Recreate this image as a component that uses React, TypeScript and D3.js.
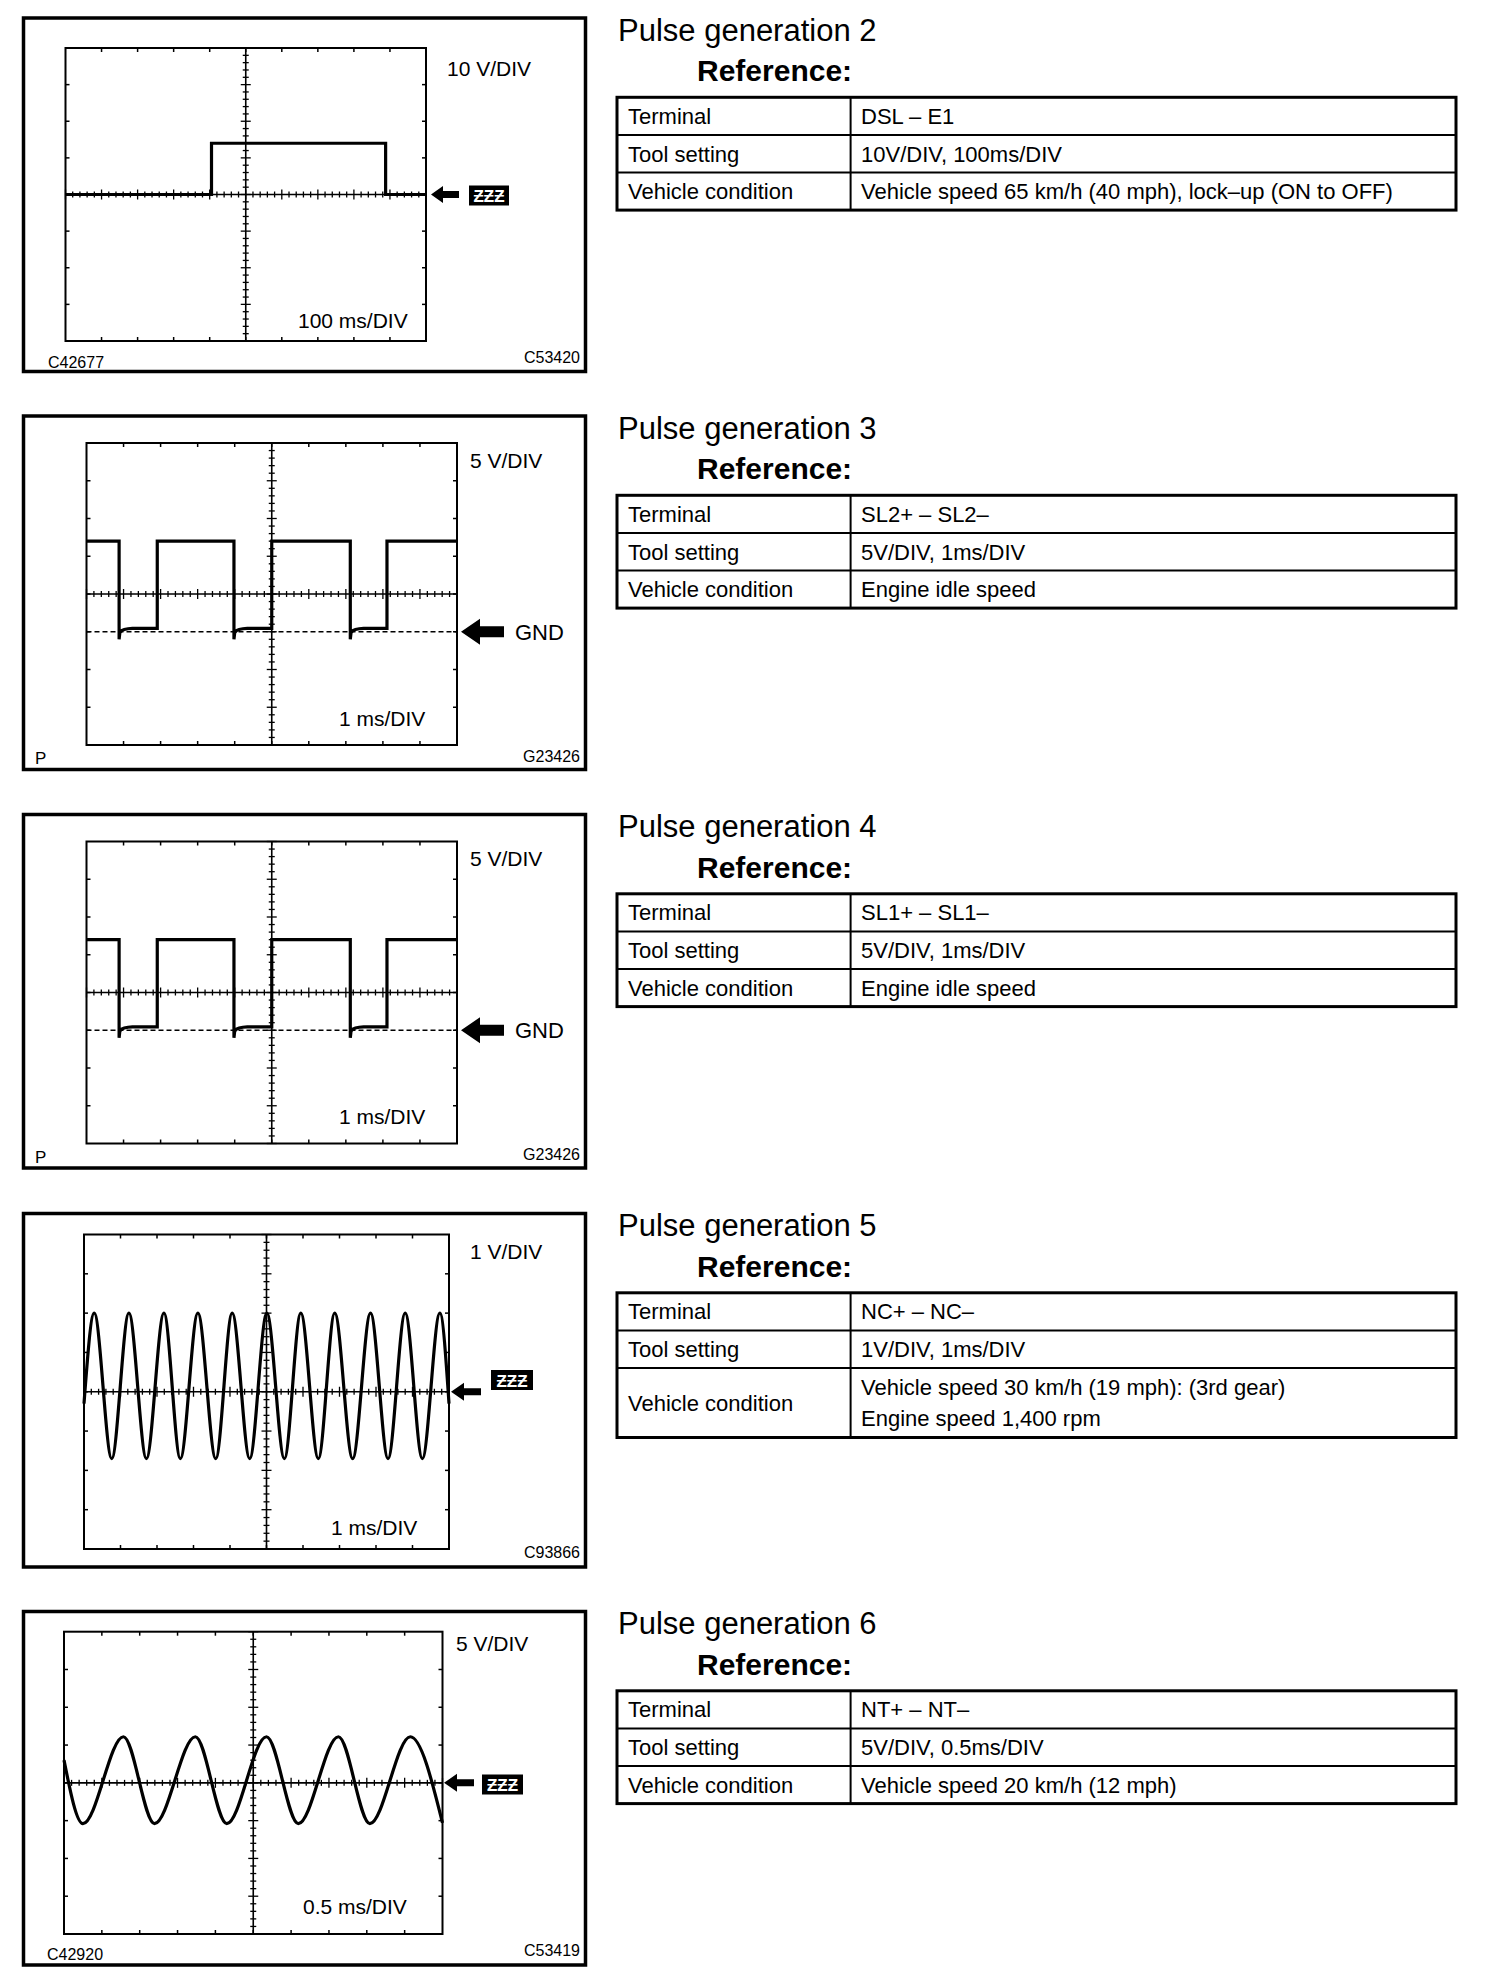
import React from "react";
import * as d3 from "d3";

const FONT = "'Liberation Sans', Arial, Helvetica, sans-serif";
const INK = "#000";
const W = 1504;
const H = 1982;

// ---- table text ----
const pulseNumbers = [2, 3, 4, 5, 6];
const rowLabels = ["Terminal", "Tool setting", "Vehicle condition"];
const terminals = ["DSL – E1", "SL2+ – SL2–", "SL1+ – SL1–", "NC+ – NC–", "NT+ – NT–"];
const toolSettings = [
  "10V/DIV, 100ms/DIV",
  "5V/DIV, 1ms/DIV",
  "5V/DIV, 1ms/DIV",
  "1V/DIV, 1ms/DIV",
  "5V/DIV, 0.5ms/DIV",
];
const conditions = [
  ["Vehicle speed 65 km/h (40 mph), lock–up (ON to OFF)"],
  ["Engine idle speed"],
  ["Engine idle speed"],
  ["Vehicle speed 30 km/h (19 mph): (3rd gear)", "Engine speed 1,400 rpm"],
  ["Vehicle speed 20 km/h (12 mph)"],
];

// ---- scope labels ----
const voltsPerDivLabels = ["10 V/DIV", "5 V/DIV", "5 V/DIV", "1 V/DIV", "5 V/DIV"];
const timePerDivLabels = ["100 ms/DIV", "1 ms/DIV", "1 ms/DIV", "1 ms/DIV", "0.5 ms/DIV"];
const voltsPerDiv = [10, 5, 5, 1, 5];
const msPerDiv = [100, 1, 1, 1, 0.5];
const centerOffsetDiv = [0, 1, 1, 0, 0]; // centre line above reference (GND) in divisions
const leftCodes = ["C42677", "P", "P", "", "C42920"];
const rightCodes = ["C53420", "G23426", "G23426", "C93866", "C53419"];

// ---- waveforms ----
// Pulse generation 2: DSL – E1
const dslTimeMs = [0, 405, 405, 888, 888, 1000];
const dslVolts = [0, 0, 14, 14, 0, 0];

// Pulse generation 3 / 4: SL solenoids, volts above GND
const slFallMs = [0.88, 3.98, 7.12];
const slRiseMs = [1.91, 5.0, 8.11];
const slHighV = 12;
const slLowOffsetMs = [0, 0.02, 0.07, 0.14, 0.24, 0.36];
const slLowVolts = [-1.0, -0.1, 0.15, 0.3, 0.4, 0.45];

// Pulse generation 5: NC sensor
const ncTimeMs = [0, 0.28, 0.76, 1.23, 1.71, 2.19, 2.64, 3.12, 3.61, 4.06, 4.54, 5.01,
  5.49, 5.94, 6.42, 6.87, 7.36, 7.85, 8.33, 8.8, 9.27, 9.75, 10];
const ncVolts = [-0.3, 2.0, -1.7, 2.0, -1.7, 2.0, -1.7, 2.0, -1.7, 2.0, -1.7, 2.0,
  -1.7, 2.0, -1.7, 2.0, -1.7, 2.0, -1.7, 2.0, -1.7, 2.0, -0.3];

// Pulse generation 6: NT sensor
const ntTimeMs = [0, 0.25, 0.785, 1.195, 1.735, 2.15, 2.675, 3.095, 3.625, 4.04, 4.575, 5.0];
const ntVolts = [3.0, -5.4, 6.1, -5.4, 6.1, -5.4, 6.1, -5.4, 6.1, -5.4, 6.1, -5.3];

function slSeries() {
  const t: number[] = [0];
  const v: number[] = [slHighV];
  slFallMs.forEach((f, i) => {
    t.push(f);
    v.push(slHighV);
    slLowOffsetMs.forEach((o, j) => {
      t.push(f + o);
      v.push(slLowVolts[j]);
    });
    t.push(slRiseMs[i], slRiseMs[i]);
    v.push(slLowVolts[slLowVolts.length - 1], slHighV);
  });
  t.push(10);
  v.push(slHighV);
  return { t, v };
}

const sl = slSeries();
const traces = [
  { t: dslTimeMs, v: dslVolts, curve: d3.curveLinear },
  { t: sl.t, v: sl.v, curve: d3.curveLinear },
  { t: sl.t, v: sl.v, curve: d3.curveLinear },
  { t: ncTimeMs, v: ncVolts, curve: d3.curveMonotoneX },
  { t: ntTimeMs, v: ntVolts, curve: d3.curveMonotoneX },
];

// ---- layout ----
const layouts = [
  {
    top: 18, grid: [65.5, 48, 426, 341], vLab: [447, 76], tLab: [298, 328],
    marker: { kind: "box", tip: 431, len: 28, headLen: 12, headH: 17, shaftH: 7, box: [469, 185.5, 40, 20] },
    lCode: [48, 368], rCode: [580, 363],
  },
  {
    top: 416, grid: [86.5, 443, 457, 745], vLab: [470, 467.5], tLab: [339, 725.5],
    marker: { kind: "gnd", tip: 461, len: 43, headLen: 19, headH: 26, shaftH: 11, textX: 515 },
    lCode: [35, 764], rCode: [580, 761.5],
  },
  {
    top: 814.5, grid: [86.5, 841.5, 457, 1143.5], vLab: [470, 866], tLab: [339, 1124],
    marker: { kind: "gnd", tip: 461, len: 43, headLen: 19, headH: 26, shaftH: 11, textX: 515 },
    lCode: [35, 1162.5], rCode: [580, 1160],
  },
  {
    top: 1213.5, grid: [84, 1234.5, 449, 1549], vLab: [470, 1259], tLab: [331, 1534.5],
    marker: { kind: "box", tip: 451, len: 30, headLen: 13, headH: 18, shaftH: 7, box: [491, 1370, 42, 20] },
    lCode: [48, 1960], rCode: [580, 1558],
  },
  {
    top: 1611.5, grid: [64, 1631.7, 442.5, 1934], vLab: [456, 1650.7], tLab: [303, 1913.5],
    marker: { kind: "box", tip: 444, len: 30, headLen: 13, headH: 18, shaftH: 7, box: [482, 1774.5, 41, 20] },
    lCode: [47, 1960], rCode: [580, 1956],
  },
];

const TABLE_X0 = 617;
const TABLE_X1 = 1456;
const TABLE_COL = 850.6;
const ROW_H = 37.6;

function arrowPath(tip: number, cy: number, len: number, headLen: number, headH: number, shaftH: number) {
  const p = d3.path();
  p.moveTo(tip, cy);
  p.lineTo(tip + headLen, cy - headH / 2);
  p.lineTo(tip + headLen, cy - shaftH / 2);
  p.lineTo(tip + len, cy - shaftH / 2);
  p.lineTo(tip + len, cy + shaftH / 2);
  p.lineTo(tip + headLen, cy + shaftH / 2);
  p.lineTo(tip + headLen, cy + headH / 2);
  p.closePath();
  return p.toString();
}

function Scope({ i }: { i: number }) {
  const L = layouts[i];
  const [gx0, gy0, gx1, gy1] = L.grid;
  const vpd = voltsPerDiv[i];
  const off = centerOffsetDiv[i];
  const x = d3.scaleLinear().domain([0, 10 * msPerDiv[i]]).range([gx0, gx1]);
  const y = d3.scaleLinear().domain([(-4 + off) * vpd, (4 + off) * vpd]).range([gy1, gy0]);
  const divX = d3.scaleLinear().domain([0, 10]).range([gx0, gx1]);
  const divY = d3.scaleLinear().domain([0, 8]).range([gy0, gy1]);
  const cx = divX(5);
  const cy = divY(4);
  const tr = traces[i];
  const line = d3
    .line<number>()
    .x((_, k) => x(tr.t[k]))
    .y((v) => y(v))
    .curve(tr.curve);

  const subX = d3.range(0, 50.5, 1).map((k) => k / 5);
  const subY = d3.range(0, 40.5, 1).map((k) => k / 5);
  const m = L.marker;
  const markY = off ? y(0) : cy;

  return (
    <g>
      <rect x={23.5} y={L.top} width={562} height={353.5} fill="none" stroke={INK} strokeWidth={3.5} />
      {/* frame */}
      <rect x={gx0} y={gy0} width={gx1 - gx0} height={gy1 - gy0} fill="none" stroke={INK} strokeWidth={2} />
      {d3.range(1, 10).map((k) => (
        <g key={"fx" + k}>
          <line x1={divX(k)} x2={divX(k)} y1={gy0} y2={gy0 + 4} stroke={INK} strokeWidth={1.5} />
          <line x1={divX(k)} x2={divX(k)} y1={gy1} y2={gy1 - 4} stroke={INK} strokeWidth={1.5} />
        </g>
      ))}
      {d3.range(1, 8).map((k) => (
        <g key={"fy" + k}>
          <line x1={gx0} x2={gx0 + 4} y1={divY(k)} y2={divY(k)} stroke={INK} strokeWidth={1.5} />
          <line x1={gx1} x2={gx1 - 4} y1={divY(k)} y2={divY(k)} stroke={INK} strokeWidth={1.5} />
        </g>
      ))}
      {/* centre lines */}
      <line x1={gx0} x2={gx1} y1={cy} y2={cy} stroke={INK} strokeWidth={1.6} />
      <line x1={cx} x2={cx} y1={gy0} y2={gy1} stroke={INK} strokeWidth={1.6} />
      {subX.map((d) => {
        const big = Math.abs(d - Math.round(d)) < 1e-6;
        const h = big ? 5 : 3;
        return <line key={"tx" + d} x1={divX(d)} x2={divX(d)} y1={cy - h} y2={cy + h} stroke={INK} strokeWidth={1.3} />;
      })}
      {subY.map((d) => {
        const big = Math.abs(d - Math.round(d)) < 1e-6;
        const h = big ? 5 : 3;
        return <line key={"ty" + d} x1={cx - h} x2={cx + h} y1={divY(d)} y2={divY(d)} stroke={INK} strokeWidth={1.3} />;
      })}
      {off ? (
        <line x1={gx0} x2={gx1} y1={y(0)} y2={y(0)} stroke={INK} strokeWidth={1.5} strokeDasharray="5,3" />
      ) : null}
      {/* trace */}
      <path d={line(tr.v) || ""} fill="none" stroke={INK} strokeWidth={3.2} strokeLinejoin="miter" />
      {/* labels */}
      <text x={L.vLab[0]} y={L.vLab[1]} fontSize={21}>{voltsPerDivLabels[i]}</text>
      <text x={L.tLab[0]} y={L.tLab[1]} fontSize={21}>{timePerDivLabels[i]}</text>
      {/* reference marker */}
      <path d={arrowPath(m.tip, markY, m.len, m.headLen, m.headH, m.shaftH)} fill={INK} />
      {m.kind === "gnd" ? (
        <text x={m.textX} y={markY + 8} fontSize={22}>GND</text>
      ) : (
        <g>
          <rect x={m.box[0]} y={m.box[1]} width={m.box[2]} height={m.box[3]} fill={INK} />
          <text
            x={m.box[0] + m.box[2] / 2}
            y={m.box[1] + m.box[3] - 3.5}
            fontSize={17}
            fontWeight="bold"
            fill="#fff"
            textAnchor="middle"
          >
            ƵƵƵ
          </text>
        </g>
      )}
      {leftCodes[i] ? (
        <text x={L.lCode[0]} y={L.lCode[1]} fontSize={leftCodes[i] === "P" ? 17 : 16}>{leftCodes[i]}</text>
      ) : null}
      <text x={L.rCode[0]} y={L.rCode[1]} fontSize={16} textAnchor="end">{rightCodes[i]}</text>
    </g>
  );
}

function InfoTable({ i }: { i: number }) {
  const top = layouts[i].top;
  const t0 = top + 79.3;
  const lines = conditions[i];
  const lastH = lines.length > 1 ? 69.5 : ROW_H;
  const rowTops = [t0, t0 + ROW_H, t0 + 2 * ROW_H];
  const rowHs = [ROW_H, ROW_H, lastH];
  const bottom = t0 + 2 * ROW_H + lastH;
  const values = [[terminals[i]], [toolSettings[i]], lines];
  return (
    <g>
      <text x={618} y={top + 22.5} fontSize={31}>Pulse generation {pulseNumbers[i]}</text>
      <text x={697} y={top + 63} fontSize={30} fontWeight="bold">Reference:</text>
      <line x1={TABLE_X0} x2={TABLE_X1} y1={rowTops[1]} y2={rowTops[1]} stroke={INK} strokeWidth={2} />
      <line x1={TABLE_X0} x2={TABLE_X1} y1={rowTops[2]} y2={rowTops[2]} stroke={INK} strokeWidth={2} />
      <line x1={TABLE_COL} x2={TABLE_COL} y1={t0} y2={bottom} stroke={INK} strokeWidth={2} />
      <rect x={TABLE_X0} y={t0} width={TABLE_X1 - TABLE_X0} height={bottom - t0} fill="none" stroke={INK} strokeWidth={3} />
      {rowLabels.map((lab, r) => {
        const mid = rowTops[r] + rowHs[r] / 2;
        const vals = values[r];
        const n = vals.length;
        return (
          <g key={lab}>
            <text x={628} y={mid + 7.8} fontSize={22}>{lab}</text>
            {vals.map((s, k) => (
              <text key={k} x={861} y={mid + 7.8 + (k - (n - 1) / 2) * 30.3} fontSize={22}>{s}</text>
            ))}
          </g>
        );
      })}
    </g>
  );
}

export default function App() {
  return (
    <div style={{ position: "absolute", left: 0, top: 0 }}>
      <svg width={W} height={H} fontFamily={FONT} style={{ display: "block", background: "#fff" }}>
        <rect width={W} height={H} fill="#fff" />
        {pulseNumbers.map((_, i) => (
          <g key={i}>
            <Scope i={i} />
            <InfoTable i={i} />
          </g>
        ))}
      </svg>
    </div>
  );
}
